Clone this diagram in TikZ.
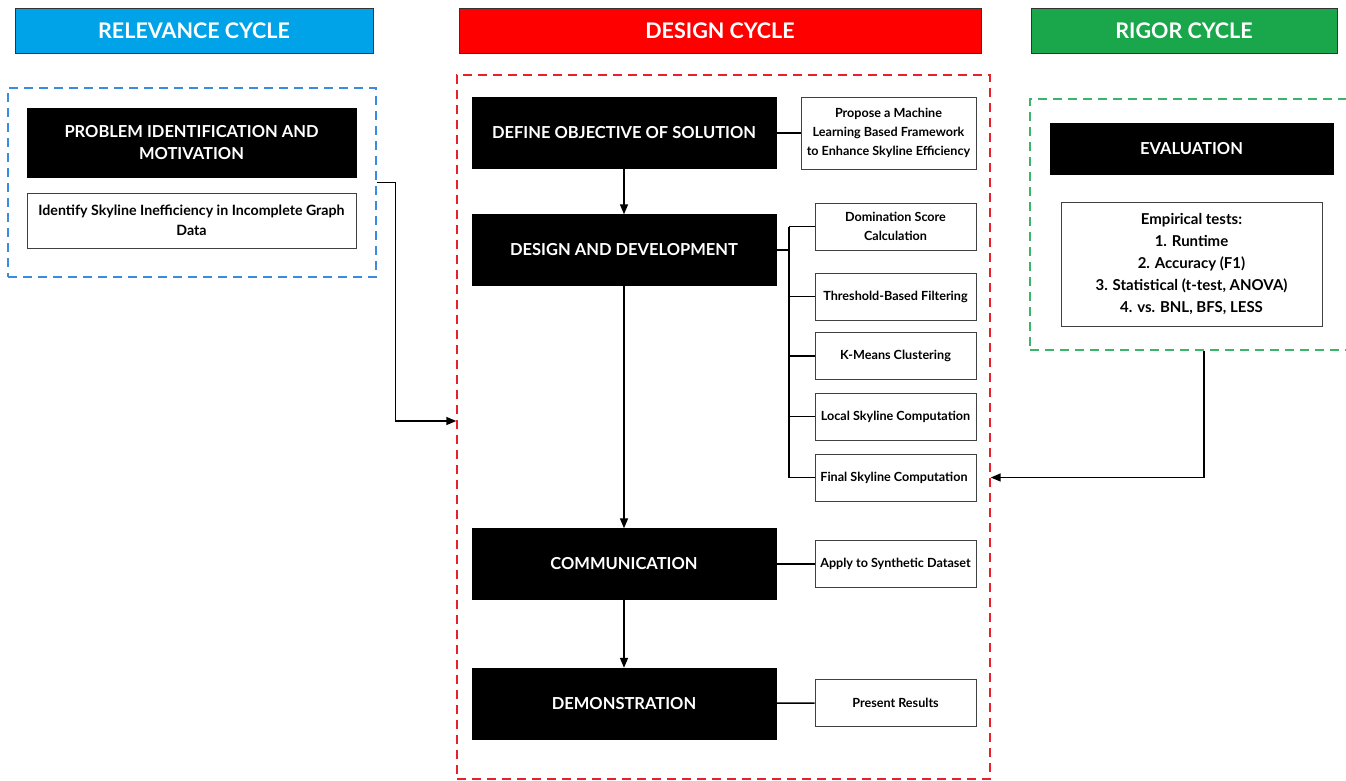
\documentclass[tikz,border=0pt]{standalone}
\usepackage{fontspec}
\setmainfont{Lato}
\usepackage{xcolor}
\usepackage{tikz}
\usetikzlibrary{arrows.meta, positioning, calc}
\definecolor{relblue}{HTML}{00A2E8}
\definecolor{desred}{HTML}{FF0000}
\definecolor{riggreen}{HTML}{1AA64A}
\definecolor{relframe}{HTML}{3A8DDE}
\definecolor{desframe}{HTML}{E8202A}
\definecolor{rigframe}{HTML}{3CB46A}

\tikzset{
  head/.style={draw=black!80, line width=0.8pt, text=white, font=\fontsize{21.5}{24}\selectfont\bfseries,
    minimum height=45pt, inner sep=0pt},
  blackbox/.style={fill=black, draw=black, text=white, font=\fontsize{16.5}{22}\selectfont\bfseries,
    minimum width=304pt, minimum height=71pt, align=center, inner sep=0pt},
  whitebox/.style={draw=black!75, line width=0.9pt, fill=white, font=\fontsize{12.6}{19}\selectfont\bfseries,
    minimum width=161pt, minimum height=47pt, align=center, inner sep=0pt},
  cyframe/.style={dashed, dash pattern=on 9pt off 6pt, line width=1.4pt, inner sep=0pt},
  link/.style={draw=black, line width=1.5pt},
  arr/.style={link, -{Triangle[length=10pt, width=8pt]}}
}

\begin{document}
\begin{tikzpicture}[x=1pt, y=-1pt]

  \clip (0,0) rectangle (1346,781);
  \fill[white] (0,0) rectangle (1346,781);

  %% Headers
  \node[head, fill=relblue, minimum width=358pt] (relhead) at (194,30.5) {RELEVANCE CYCLE};
  \node[head, fill=desred, minimum width=522pt] (deshead) at (720,30.5) {DESIGN CYCLE};
  \node[head, fill=riggreen, minimum width=306pt] (righead) at (1184,30.5) {RIGOR CYCLE};

  %% Frames
  \node[cyframe, draw=relframe, minimum width=368pt, minimum height=189pt] (relfr) at (192,182.5) {};
  \node[cyframe, draw=desframe, minimum width=533pt, minimum height=704pt] (desfr) at (723.5,427) {};
  \node[cyframe, draw=rigframe, minimum width=348pt, minimum height=251pt] (rigfr) at (1204,224.5) {};

  %% Relevance cycle
  \node[blackbox, minimum width=329pt, minimum height=69pt] (prob) at (191.5,142.5)
    {PROBLEM IDENTIFICATION AND\\MOTIVATION};
  \node[whitebox, font=\fontsize{14.2}{20}\selectfont\bfseries, minimum width=329pt, minimum height=55pt] (ident)
    at (191.5,220.5) {Identify Skyline Inefficiency in Incomplete Graph\\Data};

  %% Design cycle
  \node[blackbox] (defobj) at (624,133) {DEFINE OBJECTIVE OF SOLUTION};
  \node[blackbox] (desdev) at (624,250) {DESIGN AND DEVELOPMENT};
  \node[blackbox] (comm) at (624,564) {COMMUNICATION};
  \node[blackbox] (demo) at (624,703.5) {DEMONSTRATION};

  \node[whitebox, minimum width=175pt, minimum height=72pt] (propose) at (888.5,133)
    {Propose a Machine\\Learning Based Framework\\to Enhance Skyline Efficiency};
  \foreach \nm/\yy/\txt in {
    domscore/226.5/{Domination Score\\Calculation},
    thresh/296.5/{Threshold-Based Filtering},
    kmeans/356/{K-Means Clustering},
    localsky/416.5/{Local Skyline Computation},
    finalsky/477.5/{Final Skyline Computation}
  }{
    \node[whitebox] (\nm) at (895.5,\yy) {\txt};
  }
  \node[whitebox] (apply) at (895.5,564) {Apply to Synthetic Dataset};
  \node[whitebox] (present) at (895.5,703) {Present Results};

  %% Rigor cycle
  \node[blackbox, minimum width=283pt, minimum height=51pt] (eval) at (1191.5,148.5) {EVALUATION};
  \node[whitebox, font=\fontsize{15}{22}\selectfont\bfseries, minimum width=261pt, minimum height=124pt] (emp)
    at (1191.5,264) {Empirical tests:\\1. Runtime\\2. Accuracy (F1)\\3. Statistical (t-test, ANOVA)\\4. vs. BNL, BFS, LESS};

  %% Connectors
  \draw[arr] (defobj) -- (desdev);
  \draw[arr] (desdev) -- (comm);
  \draw[arr] (comm) -- (demo);
  \draw[link] (defobj) -- (propose);
  \draw[link] (comm) -- (apply);
  \draw[link] (demo) -- (present);

  \coordinate (trunk) at (789,250);
  \draw[link] (desdev.east) -- (trunk);
  \draw[link] (trunk |- domscore.west) -- (trunk |- finalsky.west);
  \foreach \nm in {domscore,thresh,kmeans,localsky,finalsky}{
    \draw[link] (trunk |- \nm.west) -- (\nm.west);
  }

  \draw[arr] (relfr.east) -- ++(19,0) |- ([yshift=6pt]desfr.west);
  \draw[arr] (rigfr.south) |- (finalsky -| desfr.east);

\end{tikzpicture}
\end{document}
